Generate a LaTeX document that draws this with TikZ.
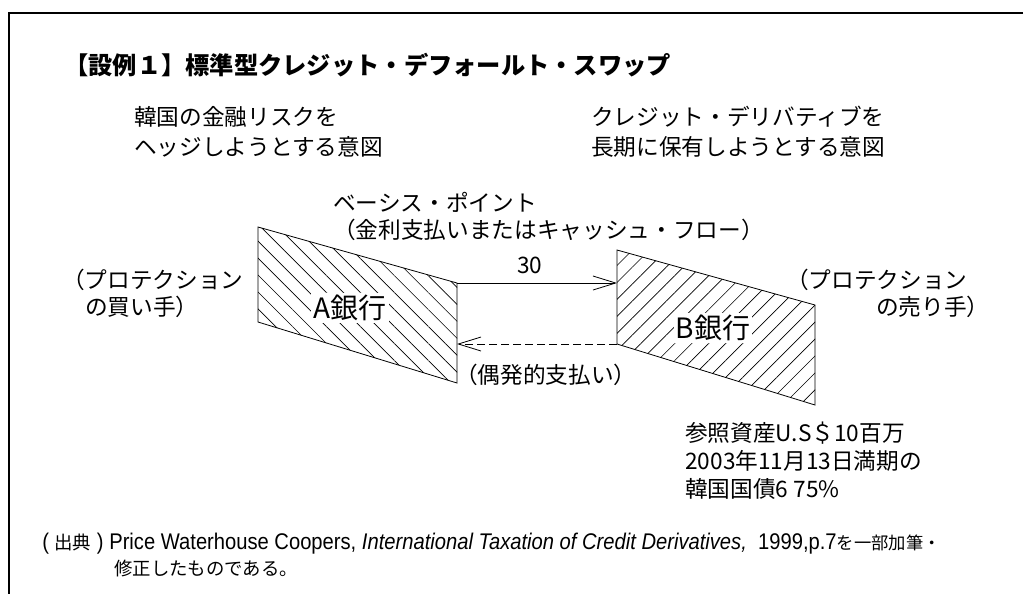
\documentclass[tikz,border=0pt]{standalone}
\usepackage{fontspec}
\setmainfont{Noto Sans CJK JP}
\newfontfamily\fnlat{Liberation Sans}[FakeStretch=0.89]
\usetikzlibrary{arrows.meta,patterns.meta}
\begin{document}
\begin{tikzpicture}[x=0.75pt,y=-0.75pt,
  txt/.style={anchor=west,inner sep=0pt,font=\fontsize{17}{20}\selectfont},
  titletxt/.style={anchor=west,inner sep=0pt,font=\fontsize{18.2}{22}\selectfont\bfseries},
  fntxt/.style={anchor=west,inner sep=0pt,font=\fontsize{13.8}{16}\selectfont},
  bank/.style={fill=white,inner sep=1.5pt,font=\fontsize{21}{24}\selectfont},
  edge/.style={line width=0.6pt},
  flow/.style={line width=0.6pt,-{Straight Barb[length=17pt,width=10.5pt,line width=0.6pt]}},
  contflow/.style={flow,dash pattern=on 6pt off 3pt},
]
\useasboundingbox (0,0) rectangle (1024,594);
\draw[line width=1pt] (1023,13) -- (9,13) -- (9,594);
% parallelograms
\coordinate (A1) at (258,227); \coordinate (A2) at (457,283);
\coordinate (A3) at (457,383); \coordinate (A4) at (258,322);
\coordinate (B1) at (617,250); \coordinate (B2) at (815,305);
\coordinate (B3) at (815,405); \coordinate (B4) at (617,344);
\draw[edge,pattern={Lines[angle=-45,distance=9pt,line width=0.5pt]}] (A1)--(A2)--(A3)--(A4)--cycle;
\draw[edge,pattern={Lines[angle=45,distance=9pt,line width=0.5pt]}] (B1)--(B2)--(B3)--(B4)--cycle;
\node[bank] (A) at (350,308) {A銀行};
\node[bank] (B) at (713,328) {B銀行};
% flows
\draw[flow] (A2) -- (A2 -| B1);
\draw[contflow] (B4) -- (B4 -| A2);
% texts
\node[titletxt] (title) at (64,65) {【設例１】標準型クレジット・デフォールト・スワップ};
\node[txt] (l1) at (134,117) {韓国の金融リスクを};
\node[txt] (l2) at (134,147) {ヘッジしようとする意図};
\node[txt] (r1) at (591,117) {クレジット・デリバティブを};
\node[txt] (r2) at (591,147) {長期に保有しようとする意図};
\node[txt] (bp1) at (333,202) {ベーシス・ポイント};
\node[txt] (bp2) at (333,230) {（金利支払いまたはキャッシュ・フロー）};
\node[txt] (n30) at (517,265) {30};
\node[txt] (buy1) at (62,280) {（プロテクション};
\node[txt] (buy2) at (85,307) {の買い手）};
\node[txt] (sel1) at (786,280) {（プロテクション};
\node[txt] (sel2) at (876,307) {の売り手）};
\node[txt] (cont) at (455,375) {（偶発的支払い）};
\node[txt] (ref1) at (685,433) {参照資産U.S＄10百万};
\node[txt] (ref2) at (685,461) {2003年11月13日満期の};
\node[txt] (ref3) at (685,489) {韓国国債6 75\%};
\node[fntxt] (fn1) at (42,544) {{\fnlat\fontsize{17}{20}\selectfont( }出典{\fnlat\fontsize{17}{20}\selectfont\ ) Price Waterhouse Coopers, \itshape International Taxation of Credit Derivatives,\ \ \upshape 1999,p.7}{\fontsize{13}{16}\selectfont を一部加筆・}};
\node[fntxt] (fn2) at (114,568) {修正したものである。};
\end{tikzpicture}
\end{document}
